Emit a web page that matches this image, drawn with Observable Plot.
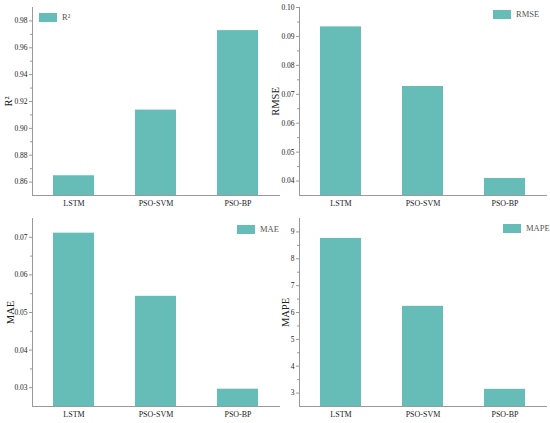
<!DOCTYPE html>
<html>
<head>
<meta charset="utf-8">
<script src="https://cdn.jsdelivr.net/npm/d3@7"></script>
<script src="https://cdn.jsdelivr.net/npm/@observablehq/plot@0.6"></script>
<style>
  html, body { margin: 0; padding: 0; background: #fff; }
  #root { position: relative; width: 550px; height: 423px; overflow: hidden; font-family: "Liberation Serif", "DejaVu Serif", serif; }
  .panel { position: absolute; }
  .panel svg { overflow: visible; }
  g[aria-label="y-axis label"] text { font-size: 10.5px; font-weight: normal; fill: #222; }
  .legend { position: absolute; display: flex; align-items: center; font-size: 8.5px; color: #555; white-space: nowrap; }
  .legend .sw { display: inline-block; width: 18px; height: 9px; background: #66bdb7; margin-right: 5px; }
</style>
</head>
<body>
<div id="root"></div>
<script>
const models = ["LSTM", "PSO-SVM", "PSO-BP"];
const r2Values = [0.8647, 0.9136, 0.9728];
const rmseValues = [0.0933, 0.0727, 0.0409];
const maeValues = [0.0711, 0.0543, 0.0296];
const mapeValues = [8.76, 6.23, 3.14];

const r2Ticks = [0.86, 0.88, 0.90, 0.92, 0.94, 0.96, 0.98];
const rmseTicks = [0.04, 0.05, 0.06, 0.07, 0.08, 0.09, 0.10];
const maeTicks = [0.03, 0.04, 0.05, 0.06, 0.07];
const mapeTicks = [3, 4, 5, 6, 7, 8, 9];

const barColor = "#66bdb7";
const axisColor = "#9a9a9a";

function minorOf(ticks) {
  const step = ticks[1] - ticks[0];
  const out = [];
  for (let i = -1; i < ticks.length; i++) out.push(ticks[0] + step * (i + 0.5));
  return out;
}

function panel({values, label, legend, domain, ticks, fmt, left, top, width, marginLeft, marginRight, labelOffset, legendPos}) {
  const data = models.map((m, i) => ({model: m, value: values[i]}));
  const chart = Plot.plot({
    width, height: 211,
    marginLeft, marginRight, marginTop: 7, marginBottom: 16,
    style: {background: "transparent", fontFamily: "'Liberation Serif', 'DejaVu Serif', serif", fontSize: "7px", color: "#222", overflow: "visible"},
    x: {domain: models, paddingInner: 0.5, paddingOuter: 0.25, label: null},
    y: {domain, label: null},
    marks: [
      Plot.barY(data, {x: "model", y: "value", fill: barColor, clip: true}),
      Plot.axisY(minorOf(ticks).filter(v => v > domain[0] && v < domain[1]), {tickSize: 2, tickFormat: () => "", stroke: axisColor, label: null}),
      Plot.axisY(ticks, {tickSize: 3, tickPadding: 2, tickFormat: fmt, stroke: axisColor, fontSize: 7.5, label, labelAnchor: "center", labelArrow: "none", labelOffset}),
      Plot.axisX({tickSize: 0, tickPadding: 5, fontSize: 8, label: null}),
      Plot.frame({anchor: "left", stroke: axisColor}),
      Plot.frame({anchor: "bottom", stroke: axisColor})
    ]
  });
  const div = document.createElement("div");
  div.className = "panel";
  div.style.left = left + "px";
  div.style.top = top + "px";
  div.appendChild(chart);
  document.getElementById("root").appendChild(div);

  const lg = document.createElement("div");
  lg.className = "legend";
  lg.style.left = legendPos[0] + "px";
  lg.style.top = legendPos[1] + "px";
  lg.innerHTML = `<span class="sw"></span><span>${legend}</span>`;
  document.getElementById("root").appendChild(lg);
}

panel({values: r2Values, label: "R²", legend: "R²", domain: [0.85, 0.99], ticks: r2Ticks, fmt: d3.format(".2f"),
  left: 0, top: 0, width: 282, marginLeft: 32, marginRight: 3, labelOffset: 28, legendPos: [39, 12]});
panel({values: rmseValues, label: "RMSE", legend: "RMSE", domain: [0.035, 0.10], ticks: rmseTicks, fmt: d3.format(".2f"),
  left: 270, top: 0, width: 280, marginLeft: 29, marginRight: 4, labelOffset: 28, legendPos: [493, 9]});
panel({values: maeValues, label: "MAE", legend: "MAE", domain: [0.025, 0.075], ticks: maeTicks, fmt: d3.format(".2f"),
  left: 0, top: 211, width: 282, marginLeft: 32, marginRight: 3, labelOffset: 26, legendPos: [237, 224]});
panel({values: mapeValues, label: "MAPE", legend: "MAPE", domain: [2.5, 9.5], ticks: mapeTicks, fmt: d3.format("d"),
  left: 270, top: 211, width: 280, marginLeft: 29, marginRight: 4, labelOffset: 18, legendPos: [503, 223]});
</script>
</body>
</html>
